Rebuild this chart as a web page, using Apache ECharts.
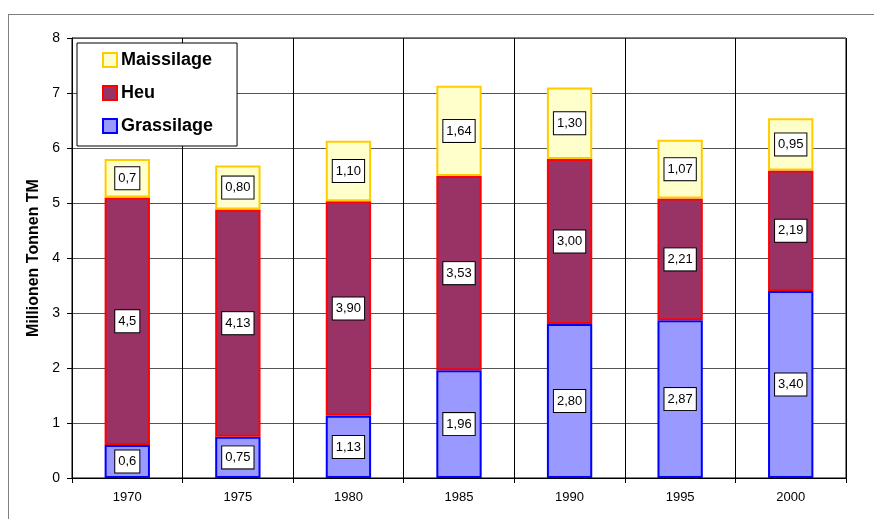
<!DOCTYPE html>
<html>
<head>
<meta charset="utf-8">
<script src="https://cdn.jsdelivr.net/npm/echarts@6/dist/echarts.min.js"></script>
<style>html,body{margin:0;padding:0;background:#fff;}#c{width:874px;height:519px;}</style>
</head>
<body>
<div id="c"></div>
<script>
const categories = ['1970','1975','1980','1985','1990','1995','2000'];
const grassilage = [0.6, 0.75, 1.13, 1.96, 2.80, 2.87, 3.40];
const heu = [4.5, 4.13, 3.90, 3.53, 3.00, 2.21, 2.19];
const maissilage = [0.7, 0.80, 1.10, 1.64, 1.30, 1.07, 0.95];
const grassLabels = ['0,6','0,75','1,13','1,96','2,80','2,87','3,40'];
const heuLabels = ['4,5','4,13','3,90','3,53','3,00','2,21','2,19'];
const maisLabels = ['0,7','0,80','1,10','1,64','1,30','1,07','0,95'];
const yTicks = [0,1,2,3,4,5,6,7,8];

const chart = echarts.init(document.getElementById('c'));
const font = 'Liberation Sans, Arial, sans-serif';
function lbl(arr){
  return {
    show: true, position: 'inside',
    formatter: p => arr[p.dataIndex],
    color: '#000', fontFamily: font, fontSize: 13,
    backgroundColor: '#fff', borderColor: '#000', borderWidth: 1,
    padding: [5, 3, 4, 3]
  };
}
chart.setOption({
  animation: false,
  graphic: [
    {type:'line', shape:{x1:8,y1:14.5,x2:874,y2:14.5}, style:{stroke:'#808080', lineWidth:1}},
    {type:'line', shape:{x1:8.5,y1:14,x2:8.5,y2:519}, style:{stroke:'#808080', lineWidth:1}}
  ],
  grid: {left:72, right:28, top:38, bottom:41, show:true, borderColor:'#000', borderWidth:1, backgroundColor:'transparent'},
  legend: {
    left: 77, top: 43, orient: 'vertical',
    padding: [8, 24, 11, 25],
    itemGap: 15,
    backgroundColor: '#fff', borderColor: '#000', borderWidth: 1,
    itemWidth: 14, itemHeight: 14, icon: 'rect', itemStyle: {borderWidth: 2},
    textStyle: {fontFamily: font, fontSize: 18, fontWeight: 'bold', color: '#000', padding: [0,0,0,-1]},
    data: ['Maissilage','Heu','Grassilage']
  },
  xAxis: {
    type: 'category', data: categories,
    axisLine: {lineStyle:{color:'#000'}},
    axisTick: {show:true, length:5, lineStyle:{color:'#000'}},
    splitLine: {show:true, lineStyle:{color:'#000', width:1}},
    axisLabel: {fontFamily: font, fontSize: 13, color:'#000', margin: 13}
  },
  yAxis: {
    type: 'value', min: 0, max: 8, interval: 1,
    name: 'Millionen Tonnen TM', nameLocation: 'middle', nameGap: 30,
    nameTextStyle: {fontFamily: font, fontSize: 16, fontWeight: 'bold', color:'#000'},
    axisLine: {show:true, lineStyle:{color:'#000'}},
    axisTick: {show:true, length:5, lineStyle:{color:'#000'}},
    splitLine: {show:true, lineStyle:{color:'#555', width:1}},
    axisLabel: {fontFamily: font, fontSize: 14, color:'#000', margin: 12,
      formatter: v => yTicks.includes(v) ? String(v) : ''}
  },
  series: [
    {name:'Grassilage', type:'bar', stack:'a', data: grassilage, barWidth:'41%',
     itemStyle:{color:'#9999FF', borderColor:'#0000FF', borderWidth:2}, label: lbl(grassLabels)},
    {name:'Heu', type:'bar', stack:'a', data: heu, barWidth:'41%',
     itemStyle:{color:'#993366', borderColor:'#FF0000', borderWidth:2}, label: lbl(heuLabels)},
    {name:'Maissilage', type:'bar', stack:'a', data: maissilage, barWidth:'41%',
     itemStyle:{color:'#FFFFCC', borderColor:'#FFCC00', borderWidth:2}, label: lbl(maisLabels)}
  ]
});
</script>
</body>
</html>
